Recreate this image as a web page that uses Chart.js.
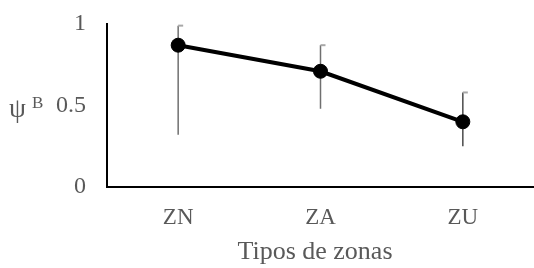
<!DOCTYPE html>
<html><head><meta charset="utf-8">
<script src="https://cdn.jsdelivr.net/npm/chart.js@4"></script>
<style>html,body{margin:0;padding:0;background:#fff;overflow:hidden;width:534px;height:268px}canvas{display:block}</style>
</head><body><canvas id="c" width="542" height="268"></canvas>
<script>
const categories = ['ZN', 'ZA', 'ZU'];
const psiValues = [0.87, 0.71, 0.40];
const errLow = [0.32, 0.48, 0.25];
const errHigh = [0.99, 0.87, 0.58];
const yTicks = [0, 0.5, 1];
const xTitleText = 'Tipos de zonas';

const FONT = "'Liberation Serif', 'Times New Roman', serif";

const errorBars = {
  id: 'errorBars',
  beforeDatasetsDraw(chart) {
    const ctx = chart.ctx, x = chart.scales.x, y = chart.scales.y;
    ctx.save();
    categories.forEach((c, i) => {
      const px = x.getPixelForValue(i);
      const yl = y.getPixelForValue(errLow[i]);
      const yh = y.getPixelForValue(errHigh[i]);
      ctx.strokeStyle = i === 2 ? '#4a4a4a' : '#6f6f6f';
      ctx.lineWidth = 1.5;
      ctx.beginPath(); ctx.moveTo(px, yl); ctx.lineTo(px, yh); ctx.stroke();
      ctx.fillStyle = '#a8a8a8';
      ctx.fillRect(px, yh - 1, 5, 2);
    });
    ctx.restore();
  }
};

const axisTitles = {
  id: 'axisTitles',
  afterDraw(chart) {
    const ctx = chart.ctx;
    ctx.save();
    ctx.fillStyle = '#595959';
    ctx.textBaseline = 'alphabetic';
    ctx.font = '27px ' + FONT;
    ctx.fillText('ψ', 9, 117);
    ctx.font = '17px ' + FONT;
    ctx.fillText('B', 32, 108);
    ctx.font = '26px ' + FONT;
    ctx.textAlign = 'center';
    ctx.fillText(xTitleText, 315, 259);
    ctx.restore();
  }
};

new Chart(document.getElementById('c'), {
  type: 'line',
  data: {
    labels: categories,
    datasets: [{
      data: psiValues,
      borderColor: '#000',
      borderWidth: 4,
      backgroundColor: '#000',
      pointRadius: 7,
      pointBorderWidth: 1,
      pointBackgroundColor: '#000',
      pointBorderColor: '#000',
      tension: 0
    }]
  },
  options: {
    responsive: false,
    animation: false,
    events: [],
    layout: { padding: { top: 24, right: 0, bottom: 1, left: 0 } },
    plugins: { legend: { display: false }, tooltip: { enabled: false } },
    scales: {
      x: {
        offset: true,
        grid: { display: false, drawTicks: false },
        border: { display: true, color: '#000', width: 2 },
        ticks: { color: '#595959', font: { family: FONT, size: 23 }, padding: 17 },
        title: { display: false },
        afterFit(s) { s.height = 80; s.paddingLeft = 0; s.paddingRight = 0; }
      },
      y: {
        min: 0, max: 1,
        afterBuildTicks(s) { s.ticks = yTicks.map(v => ({ value: v })); },
        grid: { display: false, drawTicks: false },
        border: { display: true, color: '#000', width: 2 },
        ticks: { color: '#595959', font: { family: FONT, size: 24 }, padding: 21,
          callback: v => String(v) },
        afterFit(s) { s.width = 107; s.paddingTop = 0; s.paddingBottom = 0; }
      }
    }
  },
  plugins: [errorBars, axisTitles]
});
</script></body></html>
